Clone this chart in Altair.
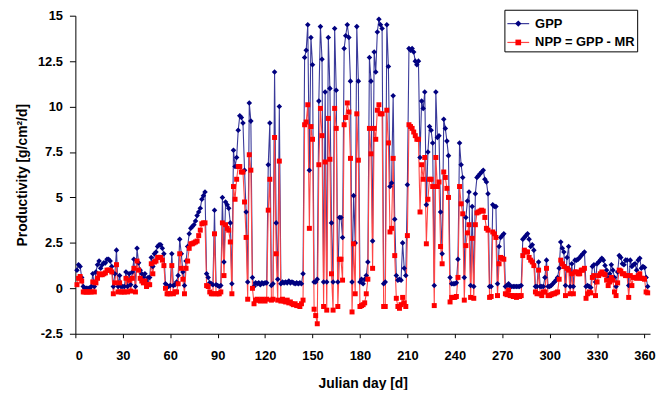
import altair as alt
import pandas as pd

FONT = "Liberation Sans"

# ---- GPP (daily, Julian day 1..362) ----
g001 = [1.0, 1.3, 1.2, 0.6, 0.1, 0.0, 0.0, 0.0, 0.0, 0.1]
g011 = [0.8, 0.1, 0.9, 1.3, 1.5, 1.1, 1.3, 1.4, 1.4, 1.6]
g021 = [1.6, 1.5, 1.2, 0.1, 0.8, 2.1, 0.1, 0.7, 0.1, 0.1]
g031 = [0.1, 0.9, 0.1, 0.8, 0.2, 0.9, 1.6, 0.1, 2.2, 1.4]
g041 = [1.0, 0.8, 0.6, 0.8, 0.4, 0.6, 0.6, 1.7, 1.2, 1.9]
g051 = [2.0, 2.3, 2.4, 2.4, 2.2, 1.9, 0.25, 0.15, 0.1, 0.15]
g061 = [1.9, 0.15, 0.2, 0.35, 0.7, 2.7, 1.9, 0.9, 0.15, 1.5]
g071 = [2.3, 3.0, 3.3, 3.4, 3.5, 3.7, 4.0, 4.2, 4.4, 4.9]
g081 = [5.1, 5.3, 0.8, 0.6, 0.3, 0.25, 0.2, 4.3, 0.2, 0.15]
g091 = [0.1, 0.15, 5.0, 1.45, 4.75, 4.6, 4.4, 3.6, 0.25, 7.6]
g101 = [6.7, 7.2, 8.7, 9.5, 9.4, 9.1, 6.5, 4.2, 0.35, 10.2]
g111 = [9.2, 0.6, 0.1, 0.3, 0.25, 0.3, 0.2, 0.3, 0.25, 0.3]
g121 = [0.3, 6.8, 9.1, 0.15, 0.25, 11.9, 3.6, 0.5, 10.0, 0.25]
g131 = [0.35, 0.3, 0.35, 0.3, 0.4, 0.3, 0.35, 0.3, 0.25, 0.3]
g141 = [0.25, 0.3, 0.25, 0.8, 12.7, 13.1, 14.5, 6.5, 13.8, 12.3]
g151 = [0.35, 0.35, 0.5, 10.3, 14.4, 12.6, 0.35, 10.8, 0.35, 13.8]
g161 = [11.0, 3.6, 0.35, 14.3, 10.9, 0.35, 3.9, 3.9, 2.8, 13.2]
g171 = [13.9, 14.5, 13.8, 11.4, 0.35, 5.1, 2.5, 14.4, 11.4, 0.35]
g181 = [0.5, 0.25, 0.5, 0.7, 1.45, 12.7, 11.4, 2.6, 13.0, 11.9]
g191 = [14.1, 14.8, 14.5, 14.3, 0.25, 0.35, 14.5, 12.2, 5.6, 5.8]
g201 = [10.6, 3.8, 0.7, 0.45, 0.5, 0.45, 2.5, 1.1, 0.7, 5.7]
g211 = [13.2, 13.1, 13.2, 13.0, 12.5, 12.3, 12.5, 7.2, 10.3, 9.9]
g221 = [10.8, 4.6, 7.5, 8.9, 8.7, 8.0, 0.15, 10.8, 8.3, 8.4]
g231 = [4.2, 1.9, 9.3, 8.8, 8.1, 7.3, 0.6, 0.25, 0.25, 0.25]
g241 = [0.3, 1.6, 8.0, 6.8, 6.1, 0.6, 3.9, 4.8, 5.3, 0.15]
g251 = [4.5, 0.1, 5.2, 6.1, 6.2, 6.3, 6.4, 6.5, 6.0, 5.85]
g261 = [5.2, 0.1, 0.1, 4.6, 4.5, 4.5, 0.25, 2.3, 2.8, 2.9]
g271 = [3.0, 0.1, 0.15, 0.25, 0.1, 0.1, 0.1, 0.1, 0.1, 0.1]
g281 = [0.1, 0.15, 2.7, 2.8, 2.9, 3.0, 2.7, 2.3, 2.4, 2.1]
g291 = [0.1, 0.1, 1.45, 0.1, 0.1, 0.1, 0.6, 1.55, 0.1, 0.1]
g301 = [0.15, 0.25, 0.35, 0.45, 0.6, 1.1, 2.55, 2.2, 2.0, 0.15]
g311 = [1.7, 2.3, 0.1, 1.35, 0.1, 1.55, 1.55, 1.6, 1.7, 1.8]
g321 = [1.9, 2.0, 0.1, 0.15, 0.1, 0.05, 1.2, 1.3, 0.35, 1.35]
g331 = [1.45, 1.55, 1.65, 1.55, 1.25, 1.0, 0.55, 0.8, 1.3, 1.0]
g341 = [0.6, 0.1, 0.9, 1.8, 1.7, 1.35, 1.3, 1.55, 1.55, 0.15]
g351 = [1.55, 1.2, 1.3, 1.35, 1.0, 1.55, 1.65, 1.1, 1.2, 1.15]
g361 = [0.6, 0.1]

# ---- NPP = GPP - MR ----
n001 = [0.2, 0.55, 0.65, 0.4, -0.2, -0.2, -0.2, -0.2, -0.2, -0.2]
n011 = [0.35, -0.2, 0.3, 0.55, 0.8, 0.75, 0.75, 0.8, 0.85, 1.0]
n021 = [1.0, 1.0, 0.9, -0.3, 0.3, 1.3, -0.2, 0.3, -0.2, -0.2]
n031 = [-0.2, 0.55, -0.2, 0.45, -0.15, 0.55, 1.1, -0.2, 1.5, 1.0]
n041 = [0.55, 0.4, 0.3, 0.4, 0.1, 0.2, 0.2, 1.35, 0.8, 1.45]
n051 = [1.5, 1.7, 1.7, 1.7, 1.55, 1.25, 0.0, -0.3, -0.3, -0.3]
n061 = [1.25, -0.3, -0.2, -0.2, 0.25, 1.9, 1.1, 0.5, -0.3, 1.1]
n071 = [1.5, 2.2, 2.45, 2.45, 2.5, 2.55, 2.6, 2.9, 3.2, 3.55]
n081 = [3.6, 3.6, 0.15, 0.1, -0.2, -0.3, -0.3, 3.0, -0.3, -0.3]
n091 = [-0.3, -0.2, 3.6, 0.7, 3.5, 3.3, 3.2, 2.55, -0.3, 5.6]
n101 = [4.9, 6.0, 6.7, 6.7, 6.4, 6.4, 4.75, 2.8, -0.6, 7.35]
n111 = [6.5, 0.0, -0.85, -0.65, -0.6, -0.65, -0.7, -0.6, -0.65, -0.7]
n121 = [-0.6, 4.3, 6.0, -0.65, -0.6, 8.3, 1.9, -0.65, 7.0, -0.7]
n131 = [-0.6, -0.7, -0.75, -0.65, -0.8, -0.75, -0.85, -0.9, -0.85, -0.95]
n141 = [-0.95, -1.0, -0.85, -0.65, 9.0, 9.15, 10.1, 3.3, 8.9, 8.2]
n151 = [-1.15, -1.5, -1.95, 6.8, 9.9, 8.4, -1.0, 6.95, -1.2, 9.35]
n161 = [7.1, 0.8, -1.2, 9.9, 8.8, -1.0, 1.6, 1.6, 0.45, 9.0]
n171 = [9.4, 10.2, 9.7, 7.15, -1.3, 2.45, -0.3, 9.6, 7.05, -1.0]
n181 = [-0.95, -0.9, -0.8, -0.3, 0.5, 8.8, 7.4, 1.1, 8.8, 8.2]
n191 = [9.8, 10.1, 9.6, 9.6, -1.0, -1.0, 9.8, 8.0, 3.1, 3.3]
n201 = [7.15, 1.8, -0.55, -1.0, -1.1, -0.9, -0.5, -0.8, -1.0, 2.9]
n211 = [9.0, 8.9, 8.8, 8.6, 8.4, 8.2, 8.2, 4.2, 6.8, 6.0]
n221 = [7.2, 2.45, 4.9, 6.0, 6.0, 5.6, -0.95, 7.2, 5.6, 5.85]
n231 = [2.3, 1.35, 6.4, 6.1, 5.5, 5.0, -0.75, -0.5, -0.5, -0.5]
n241 = [-0.45, 0.6, 5.6, 4.65, 4.1, -0.65, 2.35, 3.05, 3.5, -0.5]
n251 = [2.75, -0.55, 3.5, 4.15, 4.2, 4.25, 4.3, 4.25, 3.9, 3.3]
n261 = [3.2, -0.5, -0.45, 3.1, 3.0, 2.8, -0.4, 1.35, 1.7, 1.65]
n271 = [1.6, -0.3, -0.35, -0.1, -0.4, -0.4, -0.45, -0.4, -0.5, -0.4]
n281 = [-0.45, -0.4, 1.8, 2.1, 2.0, 2.0, 1.7, 1.55, 1.45, 1.25]
n291 = [-0.2, -0.3, 1.0, -0.3, -0.4, -0.2, -0.2, 1.1, -0.4, -0.4]
n301 = [-0.35, -0.3, -0.3, -0.25, -0.2, 0.5, 1.55, 1.35, 1.2, -0.4]
n311 = [1.1, 1.0, -0.3, 0.8, -0.3, 0.9, 0.9, 0.8, 0.8, 1.0]
n321 = [1.0, 1.1, -0.55, -0.3, -0.2, -0.25, 0.6, 0.7, -0.4, 0.35]
n331 = [0.7, 0.8, 0.9, 0.8, 0.75, 0.45, 0.15, 0.35, 0.6, 0.45]
n341 = [-0.2, -0.4, 0.3, 1.0, 0.95, 0.8, 0.8, 0.7, 0.7, -0.5]
n351 = [0.7, 0.15, 0.6, 0.6, 0.55, 0.7, 0.8, 0.55, 0.55, 0.5]
n361 = [-0.2, -0.25]

gpp = (g001 + g011 + g021 + g031 + g041 + g051 + g061 + g071 + g081 + g091 +
       g101 + g111 + g121 + g131 + g141 + g151 + g161 + g171 + g181 + g191 +
       g201 + g211 + g221 + g231 + g241 + g251 + g261 + g271 + g281 + g291 +
       g301 + g311 + g321 + g331 + g341 + g351 + g361)
npp = (n001 + n011 + n021 + n031 + n041 + n051 + n061 + n071 + n081 + n091 +
       n101 + n111 + n121 + n131 + n141 + n151 + n161 + n171 + n181 + n191 +
       n201 + n211 + n221 + n231 + n241 + n251 + n261 + n271 + n281 + n291 +
       n301 + n311 + n321 + n331 + n341 + n351 + n361)
day = list(range(1, len(gpp) + 1))

SERIES = ["GPP", "NPP = GPP - MR"]
COLORS = ["#000080", "#FF0000"]
LINE_COLORS = ["#3A3A9A", "#FF4545"]
SHAPES = ["M0,-0.29L0.29,0L0,0.29L-0.29,0Z",
          "M-0.26,-0.26L0.26,-0.26L0.26,0.26L-0.26,0.26Z"]
X_TICKS = list(range(0, 361, 30))
Y_TICKS = [-2.5, 0, 2.5, 5, 7.5, 10, 12.5, 15]

df = pd.DataFrame({
    "day": day + day,
    "value": gpp + npp,
    "series": [SERIES[0]] * len(gpp) + [SERIES[1]] * len(npp),
})

LEG_X, LEG_Y = 433, -6
common = dict(title=None, orient="none", legendX=LEG_X, legendY=LEG_Y, padding=2,
              rowPadding=0, symbolSize=484, labelOffset=5, labelFont=FONT,
              labelFontSize=13, labelFontWeight="bold", labelColor="black")
line_legend = alt.Legend(strokeColor="black", fillColor="white", symbolType="stroke",
                         symbolStrokeWidth=1.2, zindex=1, **common)
marker_legend = alt.Legend(labelOpacity=0, zindex=2, **common)

x_enc = alt.X("day:Q", scale=alt.Scale(domain=[0, 363.5], nice=False),
              axis=alt.Axis(values=X_TICKS, title="Julian day [d]", grid=False,
                            tickSize=4, labelPadding=12, titlePadding=14))
y_enc = alt.Y("value:Q", scale=alt.Scale(domain=[-2.5, 15], nice=False, zero=False),
              axis=alt.Axis(values=Y_TICKS, title="Productivity [g/cm²/d]", grid=False,
                            tickSize=6, labelPadding=7, titlePadding=8,
                            labelExpr="'' + datum.value"))

lines = alt.Chart(df).mark_line(strokeWidth=1.1).encode(
    x=x_enc, y=y_enc,
    stroke=alt.Stroke("series:N", scale=alt.Scale(domain=SERIES, range=LINE_COLORS),
                      legend=line_legend),
    detail="series:N")
points = alt.Chart(df).mark_point(filled=True, opacity=1, size=373).encode(
    x=x_enc, y=y_enc,
    color=alt.Color("series:N", scale=alt.Scale(range=COLORS), legend=marker_legend),
    shape=alt.Shape("series:N", scale=alt.Scale(range=SHAPES), legend=marker_legend),
)

chart = alt.layer(lines, points).properties(
    width=580, height=321, autosize="none",
    padding={"left": 68, "top": 6, "right": 6, "bottom": 55},
).configure(font=FONT).configure_view(stroke=None).configure_axis(
    domainColor="black", tickColor="black", labelColor="black", titleColor="black",
    labelFont=FONT, titleFont=FONT, labelFontSize=13, labelFontWeight="bold",
    titleFontSize=14, titleFontWeight="bold", domainWidth=1, tickWidth=1,
)

chart.save("out.html", embed_options={"renderer": "svg", "actions": False})
